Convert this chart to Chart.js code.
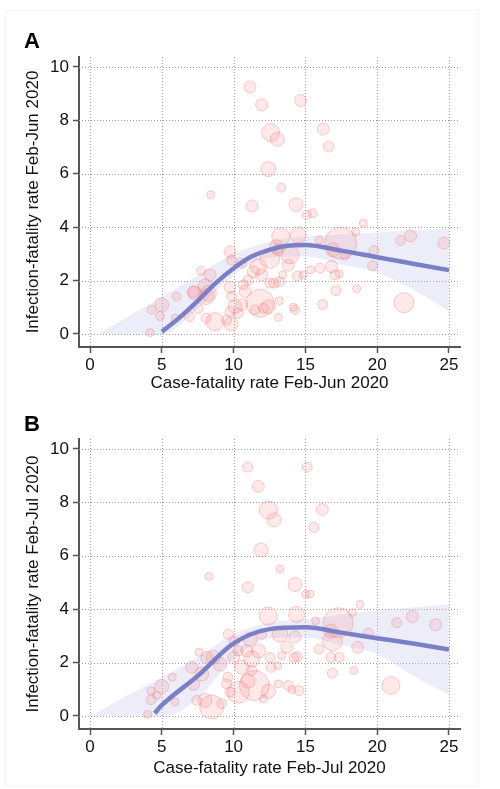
<!DOCTYPE html>
<html>
<head>
<meta charset="utf-8">
<script src="https://cdn.jsdelivr.net/npm/chart.js@4.4.0/dist/chart.umd.min.js"></script>
<style>
  html,body{margin:0;padding:0;background:#fff;}
  body{width:500px;height:789px;position:relative;overflow:hidden;font-family:"Liberation Sans",Arial,Helvetica,sans-serif;}
  .frame{position:absolute;left:5px;top:10px;width:472px;height:775px;border:1px solid #f5f5f5;}
  .panel{position:absolute;left:0;width:500px;}
  .lbl{position:absolute;left:24px;font-weight:bold;font-size:22px;color:#000;line-height:1;}
</style>
</head>
<body>
<div class="frame"></div>
<div class="panel" style="top:0px;height:394px"><canvas id="cA" width="500" height="394"></canvas></div>
<div class="panel" style="top:382px;height:397px"><canvas id="cB" width="500" height="397"></canvas></div>
<div class="lbl" style="top:30px">A</div>
<div class="lbl" style="top:413px">B</div>
<script>
// ---------- DATA ----------
const xTicks = [0, 5, 10, 15, 20, 25];
const yTicks = [0, 2, 4, 6, 8, 10];

const titleXA = "Case-fatality rate Feb-Jun 2020";
const titleYA = "Infection-fatality rate Feb-Jun 2020";
const titleXB = "Case-fatality rate Feb-Jul 2020";
const titleYB = "Infection-fatality rate Feb-Jul 2020";

// Panel A bubbles: case-fatality (x), infection-fatality (y), bubble size (r)
const cfrA = [11.14,11.95,14.67,12.58,13.05,16.25,16.62,12.42,13.32,8.40,11.28,14.35,15.09,15.5,19.03,18.5,13.28,14.5,17.46,15.97,16.9,19.78,19.69,21.63,22.33,24.65,13.81,16.02,16.83,17.06,17.36,15.37,17.13,18.57,21.87,16.2,14.16,14.28,13.18,13.11,11.84,12.07,13.0,13.93,17.76,13.42,14.44,14.86,12.81,13.2,9.75,9.86,7.73,8.36,8.01,7.31,8.24,6.03,4.99,4.29,4.87,5.92,4.18,6.92,7.54,8.08,8.7,9.52,9.82,9.75,10.1,10.56,10.33,9.86,9.75,10.68,11.02,11.37,11.95,12.53,12.42,11.49,12.53,13.1,11.72,10.56,10.8,7.2,8.1];
const ifrA = [9.25,8.58,8.74,7.54,7.29,7.67,7.02,6.17,5.48,5.21,4.79,4.84,4.46,4.52,4.15,3.83,3.64,3.7,3.40,3.52,3.15,3.12,2.55,3.5,3.67,3.40,2.58,2.46,2.52,2.21,2.25,2.40,1.62,1.69,1.17,1.10,1.0,0.9,1.24,0.62,1.15,0.96,3.27,2.96,2.96,2.21,2.17,2.21,1.9,1.95,3.08,2.77,2.37,2.21,1.80,1.52,1.52,1.40,1.09,0.90,0.67,0.59,0.05,0.65,0.96,0.59,0.46,0.52,0.37,0.84,1.02,1.09,0.77,1.40,1.75,1.84,2.02,2.33,2.21,1.90,1.02,0.90,2.83,3.15,2.52,2.65,1.6,1.58,1.4];
const sizeA = [6,6,6,9,7,6,5.5,7.5,4.5,4,6,7,4.5,4.5,4,4,9,8,16,4,7,5,5,5,6,6,6,5,6,5,4,4,5,4,10,5,4,4.5,4,4,14,5,7,9,5,4,5,4,5,5,6,5,4.5,6,7,7,8,4.5,7,4.5,4.5,4,4,5,5,5,9,5,7,5,7,6,5,5,6,5,5,6,6,5,7,5,10,6,8,5,6,6,8];

// Panel A fitted curve and confidence band
const fitXA = [5, 6.25, 7.5, 8.75, 10, 11.25, 12.5, 13.75, 15, 17.5, 20, 22.5, 25];
const fitYA = [0.08, 0.62, 1.24, 1.90, 2.46, 2.90, 3.15, 3.30, 3.33, 3.12, 2.87, 2.63, 2.39];
const bandXA = [0.7, 2.5, 5, 7.5, 10, 12.5, 15, 17.5, 20, 22.5, 25];
const bandLoA = [0.0, 0.0, -0.02, 0.95, 2.2, 2.85, 2.9, 2.6, 2.3, 1.65, 0.85];
const bandHiA = [0.05, 0.6, 1.4, 2.2, 3.0, 3.45, 3.65, 3.72, 3.8, 3.88, 3.93];

// Panel B bubbles
const cfrB = [10.98,15.13,11.72,12.42,12.81,16.18,15.6,11.91,13.23,8.29,10.98,14.28,15.02,15.32,18.8,18.27,12.42,14.39,17.29,15.71,21.36,22.45,24.07,16.78,19.38,18.64,16.88,15.95,16.78,17.36,16.88,18.38,20.96,14.28,14.44,14.2,13.7,13.23,13.35,13.07,12.6,13.11,13.81,14.55,14.05,11.44,12.42,12.07,10.33,9.75,9.52,9.59,10.56,11.26,11.72,10.91,10.33,9.63,10.05,11.14,11.96,12.53,11.26,8.47,8.01,7.43,9.17,8.59,9.05,7.59,8.13,7.08,7.78,7.2,5.73,4.99,4.25,4.25,4.64,5.92,4.01,10.0,11.0];
const ifrB = [9.32,9.32,8.60,7.71,7.34,7.73,7.06,6.22,5.50,5.23,4.82,4.92,4.55,4.57,4.17,3.87,3.74,3.80,3.49,3.56,3.49,3.72,3.41,3.18,3.10,2.57,2.81,2.50,2.19,2.19,1.60,1.70,1.14,2.96,2.22,2.18,2.57,3.06,2.26,1.88,1.82,1.20,1.14,0.95,0.99,1.14,0.92,0.64,0.89,0.89,1.20,1.45,1.82,2.13,2.44,2.44,2.44,3.06,2.79,2.87,3.06,2.19,1.70,0.33,0.58,0.58,0.46,2.19,1.94,2.38,2.19,1.82,1.57,1.18,1.45,1.10,0.93,0.61,0.77,0.52,0.06,2.2,1.3];
const sizeB = [5,5,6,9,7,6,5,7,4,4,5.5,7,4,4,4,4,9,8,15,4,5,6,6,7,5,6,10,5,5,5,5,4,9,6,5,5,6,8,4,4,5,4,5,5,4,15,7,4,11,5,5,5,7,8,7,6,5,5,5,7,5,5,5,12,7,5,5,7,7,4,6,6,7,6,4,7,4,5,4,4,4,6,7];

// Panel B fitted curve and confidence band
const fitXB = [4.5, 5, 7.5, 10, 12.5, 15, 17.5, 20, 22.5, 25];
const fitYB = [0.1, 0.4, 1.5, 2.72, 3.25, 3.32, 3.12, 2.91, 2.71, 2.49];
const bandXB = [0.2, 2.5, 5, 7.5, 10, 12.5, 15, 17.5, 20, 22.5, 25];
const bandLoB = [0.0, 0.0, -0.05, 0.65, 2.15, 2.9, 2.94, 2.65, 2.32, 1.5, 0.8];
const bandHiB = [0.05, 0.75, 1.45, 2.2, 3.06, 3.5, 3.62, 3.8, 3.95, 4.06, 4.17];

// ---------- CHART ----------
const FONT = '"Liberation Sans", Arial, Helvetica, sans-serif';
const AXIS = '#555555';

const dottedGrid = {
  id: 'dottedGrid',
  beforeDatasetsDraw(chart) {
    const {ctx, chartArea: a, scales: {x, y}} = chart;
    ctx.save();
    ctx.strokeStyle = '#9c9c9c';
    ctx.lineWidth = 1;
    ctx.setLineDash([1, 2]);
    x.ticks.forEach(t => {
      const px = Math.round(x.getPixelForValue(t.value)) + 0.5;
      ctx.beginPath(); ctx.moveTo(px, a.top); ctx.lineTo(px, a.bottom); ctx.stroke();
    });
    y.ticks.forEach(t => {
      const py = Math.round(y.getPixelForValue(t.value)) + 0.5;
      ctx.beginPath(); ctx.moveTo(a.left, py); ctx.lineTo(a.right, py); ctx.stroke();
    });
    ctx.restore();
  }
};

function zip(xs, ys) { return xs.map((v, i) => ({x: v, y: ys[i]})); }
function zip3(xs, ys, rs) { return xs.map((v, i) => ({x: v, y: ys[i], r: rs[i]})); }

function makeChart(id, cfr, ifr, size, fitX, fitY, bandX, bandLo, bandHi, tx, ty, xAxisH) {
  return new Chart(document.getElementById(id), {
    type: 'bubble',
    data: {
      datasets: [
        {type: 'line', data: zip(bandX, bandLo), borderWidth: 0, borderColor: 'rgba(0,0,0,0)', pointRadius: 0, fill: false, tension: 0.4, cubicInterpolationMode: 'monotone', order: 5},
        {type: 'line', data: zip(bandX, bandHi), borderWidth: 0, borderColor: 'rgba(0,0,0,0)', pointRadius: 0, fill: '-1', backgroundColor: 'rgba(200,200,236,0.32)', tension: 0.4, cubicInterpolationMode: 'monotone', order: 4},
        {data: zip3(cfr, ifr, size), backgroundColor: 'rgba(244,120,120,0.16)', borderColor: 'rgba(238,120,120,0.36)', borderWidth: 1, order: 3},
        {type: 'line', data: zip(fitX, fitY), borderColor: '#7B80C6', borderWidth: 4.5, pointRadius: 0, fill: false, cubicInterpolationMode: 'monotone', borderCapStyle: 'butt', order: 1}
      ]
    },
    options: {
      responsive: false,
      animation: false,
      devicePixelRatio: 1,
      layout: {padding: {top: 57, right: 40, bottom: 0, left: 0}},
      plugins: {legend: {display: false}, tooltip: {enabled: false}},
      scales: {
        x: {
          type: 'linear', min: -0.77, max: 25.77,
          afterBuildTicks: s => { s.ticks = xTicks.map(v => ({value: v})); },
          afterFit: s => { s.height = xAxisH; },
          grid: {drawOnChartArea: false, drawTicks: true, tickLength: 6, tickColor: AXIS, tickWidth: 1.5},
          border: {display: true, color: AXIS, width: 2},
          ticks: {font: {family: FONT, size: 17}, color: '#111', padding: 2, maxRotation: 0, autoSkip: false},
          title: {display: true, text: tx, font: {family: FONT, size: 17}, color: '#111', padding: {top: 0, bottom: 0}}
        },
        y: {
          type: 'linear', min: -0.49, max: 10.37,
          afterBuildTicks: s => { s.ticks = yTicks.map(v => ({value: v})); },
          afterFit: s => { s.width = 79; },
          grid: {drawOnChartArea: false, drawTicks: true, tickLength: 6, tickColor: AXIS, tickWidth: 1.5},
          border: {display: true, color: AXIS, width: 2},
          ticks: {font: {family: FONT, size: 17}, color: '#111', padding: 4, autoSkip: false},
          title: {display: true, text: ty, font: {family: FONT, size: 17}, color: '#111', padding: {top: 23, bottom: 0}}
        }
      }
    },
    plugins: [dottedGrid]
  });
}

makeChart('cA', cfrA, ifrA, sizeA, fitXA, fitYA, bandXA, bandLoA, bandHiA, titleXA, titleYA, 47);
makeChart('cB', cfrB, ifrB, sizeB, fitXB, fitYB, bandXB, bandLoB, bandHiB, titleXB, titleYB, 50);
</script>
</body>
</html>
